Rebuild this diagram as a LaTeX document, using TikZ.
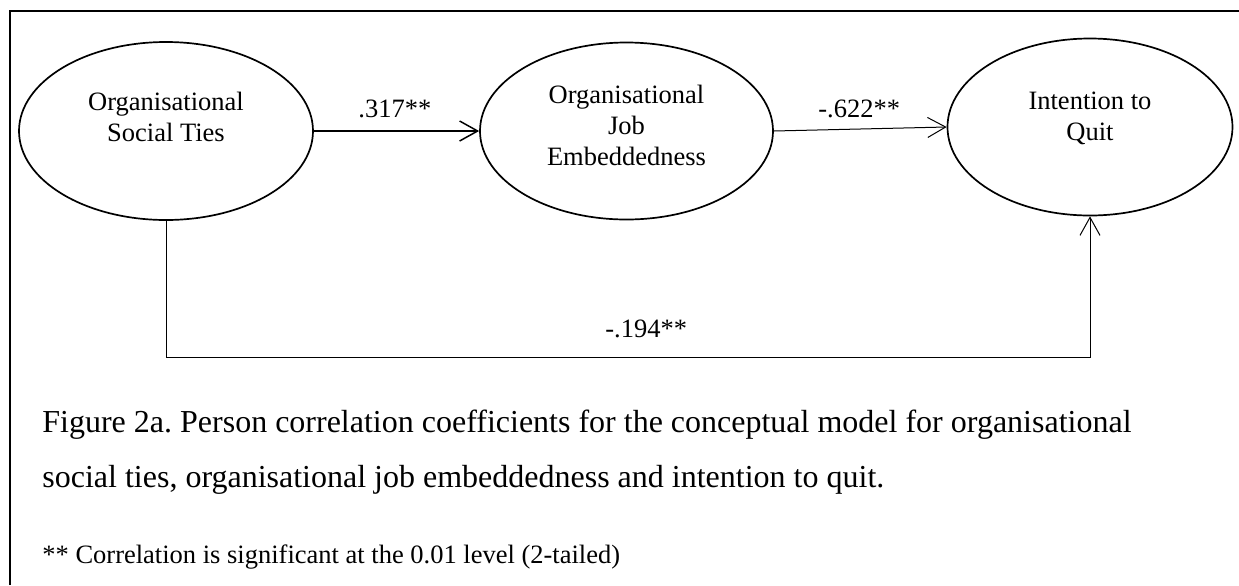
\documentclass[tikz,border=0pt]{standalone}
\usepackage{fontspec}
\setmainfont{Liberation Serif}
\usetikzlibrary{shapes.geometric,arrows.meta}
\frenchspacing
\tikzset{
  latent/.style={ellipse,draw,line width=0.85pt,inner sep=0pt},
  lbl/.style={font=\fontsize{13.25pt}{15.5pt}\selectfont,inner sep=0pt,align=center,anchor=base},
  coef/.style={font=\fontsize{13.25pt}{15.5pt}\selectfont,inner sep=0pt,anchor=base west},
  conn/.style={line width=0.5pt,-{Straight Barb[length=9pt,width=10pt,line width=0.5pt]}},
  frameline/.style={line width=0.65pt},
}
\begin{document}
\begin{tikzpicture}[x=0.5pt,y=-0.5pt]
\useasboundingbox (0,0) rectangle (1239,585);
\draw[frameline] (10,585) -- (10,11) -- (1239,11);
% latent variables
\node[latent,minimum width=147pt,minimum height=89pt] (e1) at (166,131) {};
\node[latent,minimum width=146.5pt,minimum height=88.5pt] (e2) at (626.5,131) {};
\node[latent,minimum width=142.5pt,minimum height=88.5pt] (e3) at (1090,127) {};
% (base anchor of a multi-line node = baseline of its last line)
\node[lbl] (t1) at (166,141) {Organisational\\Social Ties};
\node[lbl] (t2) at (626.5,165) {Organisational\\Job\\Embeddedness};
\node[lbl] (t3) at (1090,140) {Intention to\\Quit};
% connectors
\coordinate (c2) at (1090,357);
\draw[conn,line width=0.75pt,-{Straight Barb[length=9pt,width=10pt,line width=0.75pt]}] (e1.east) -- (e2.west);
\draw[conn] (e2.east) -- (e3.west);
\draw[conn] (e1.south) |- (c2) -- (e3.south);
% coefficients
\node[coef] (k1) at (358,117) {.317**};
\node[coef] (k2) at (818,117) {-.622**};
\node[coef] (k3) at (605,337) {-.194**};
% caption
\node[inner sep=0pt,anchor=base west,align=left,font=\fontsize{16pt}{27.5pt}\selectfont] (cap) at (42,487)
  {Figure 2a. Person correlation coefficients for the conceptual model for organisational\\social ties, organisational job embeddedness and intention to quit.};
\node[inner sep=0pt,anchor=base west,font=\fontsize{13.25pt}{15.5pt}\selectfont] (note) at (42,563)
  {** Correlation is significant at the 0.01 level (2-tailed)};
\end{tikzpicture}
\end{document}
